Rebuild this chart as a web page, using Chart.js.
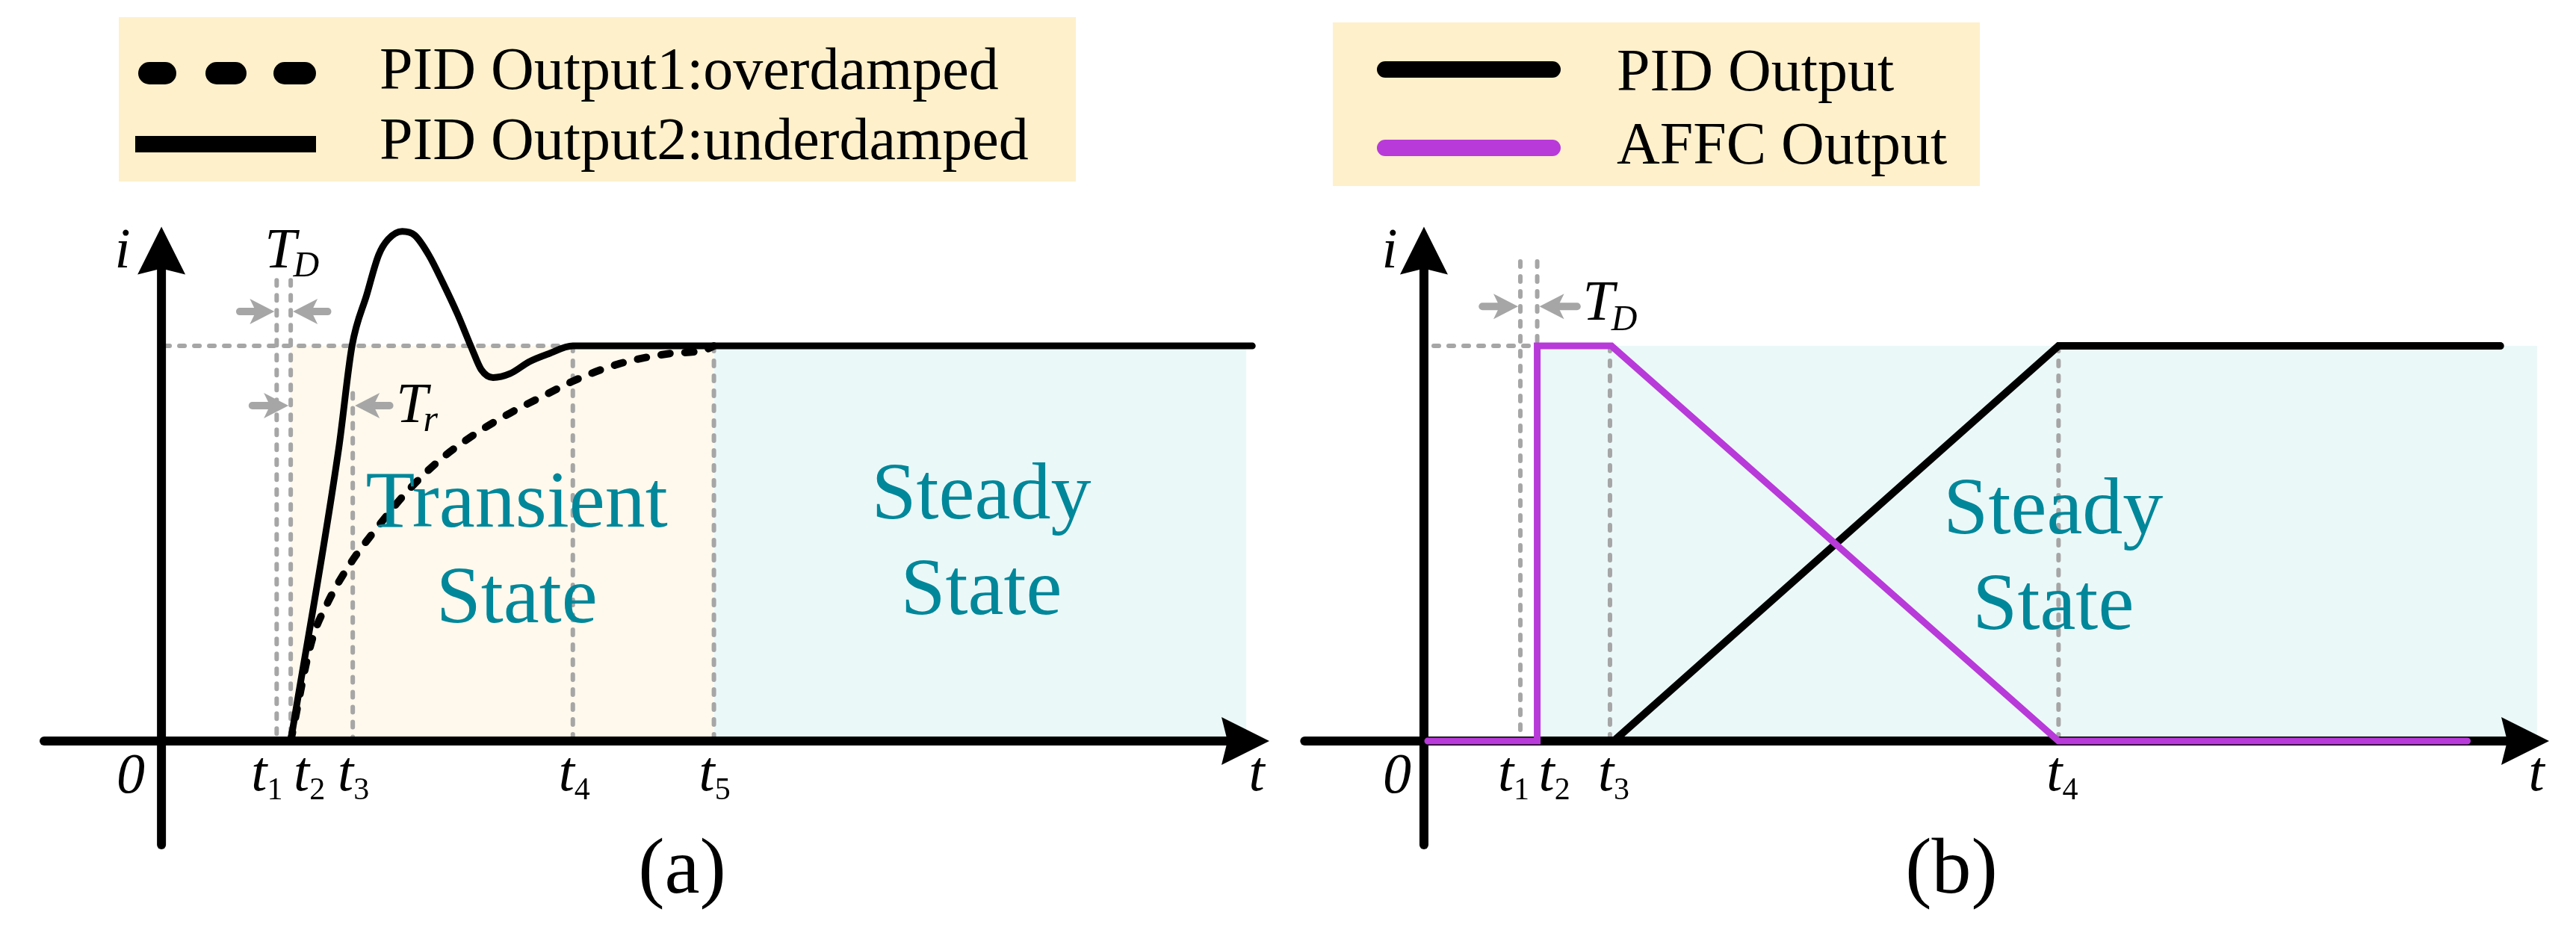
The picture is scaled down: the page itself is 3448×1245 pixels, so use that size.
<!DOCTYPE html>
<html>
<head>
<meta charset="utf-8">
<script src="https://cdn.jsdelivr.net/npm/chart.js@4.4.1/dist/chart.umd.min.js"></script>
<style>
html, body { margin: 0; padding: 0; background: #fff; }
#wrap { display: flex; width: 3448px; height: 1245px; }
canvas { display: block; }
</style>
</head>
<body>
<div id="wrap">
  <canvas id="chartA" width="1724" height="1245"></canvas>
  <canvas id="chartB" width="1724" height="1245"></canvas>
</div>
<script>
const SERIF = '"Liberation Serif", "Times New Roman", serif';
const TEAL = '#00879a';
const PURPLE = '#b83ad9';
const GREY = '#a6a6a6';
const LEGEND_BG = '#fdf0cb';
const TRANSIENT_BG = '#fef9ec';
const STEADY_BG = '#ebf8f8';

// ---- panel (a) ----
const ticksA = [1.56, 1.75, 2.59, 5.57, 7.48];          // t1..t5
const tickNamesA = ['1', '2', '3', '4', '5'];
const guideTopA = [1.166, 1.166, 0.88, 1, 1];
const underdampedT = [1.75, 2.40, 2.58, 2.78, 2.94, 3.07, 3.26, 3.43, 3.62, 3.81, 4.01, 4.21, 4.33, 4.49, 4.72, 4.98, 5.24, 5.57, 14.77];
const underdampedI = [0, 0.74, 1.0, 1.13, 1.23, 1.27, 1.29, 1.28, 1.23, 1.16, 1.08, 0.99, 0.94, 0.92, 0.93, 0.96, 0.98, 1.0, 1.0];
const overdampedT = [1.75, 2.03, 2.25, 2.56, 2.92, 3.32, 3.76, 4.27, 4.72, 5.24, 5.62, 6.20, 6.85, 7.36, 7.48];
const overdampedI = [0, 0.25, 0.35, 0.45, 0.54, 0.63, 0.71, 0.78, 0.83, 0.88, 0.915, 0.955, 0.98, 0.99, 1.0];
const steadyEndA = 14.69;
const legendA = ['PID Output1:overdamped', 'PID Output2:underdamped'];

// ---- panel (b) ----
const ticksB = [1.285, 1.51, 2.48, 8.46];               // t1..t4
const tickNamesB = ['1', '2', '3', '4'];
const guideTopB = [1.214, 1.214, 1, 1];
const pidT = [2.53, 8.46, 14.35];
const pidI = [0, 1, 1];
const affcT = [0.05, 1.51, 1.51, 2.50, 8.46, 13.91];
const affcI = [0, 0, 1, 1, 0, 0];
const steadyEndB = 14.84;
const legendB = ['PID Output', 'AFFC Output'];

const regionA = ['Transient', 'State'];
const regionS = ['Steady', 'State'];

function pts(xs, ys) { return xs.map((x, i) => ({ x: x, y: ys[i] })); }

function bandSet(x1, x2, color) {
  return { data: pts([x1, x2], [1, 1]), borderWidth: 0, borderColor: 'rgba(0,0,0,0)',
    backgroundColor: color, fill: 'origin', order: 30, tension: 0 };
}
function guideSet(x1, y1, x2, y2) {
  return { data: pts([x1, x2], [y1, y2]), borderColor: GREY, borderWidth: 6,
    borderDash: [7, 13], borderCapStyle: 'round', fill: false, order: 20, tension: 0 };
}

function subLabel(ctx, main, sub, x, base, mainFont, subFont, drop, align, kern) {
  kern = kern || 0;
  ctx.font = mainFont; const w1 = ctx.measureText(main).width;
  ctx.font = subFont; const w2 = ctx.measureText(sub).width;
  const left = align === 'center' ? x - (w1 + w2 + kern) / 2 : x;
  ctx.textAlign = 'left';
  ctx.font = mainFont; ctx.fillText(main, left, base);
  ctx.font = subFont; ctx.fillText(sub, left + w1 + kern, base + drop);
}

function greyArrow(ctx, xFrom, xTip, y) {
  const dir = Math.sign(xTip - xFrom), head = 33, half = 17;
  ctx.save();
  ctx.strokeStyle = GREY; ctx.fillStyle = GREY; ctx.lineWidth = 10; ctx.lineCap = 'round';
  ctx.beginPath(); ctx.moveTo(xFrom + dir * 5, y); ctx.lineTo(xTip - dir * head * 0.8, y); ctx.stroke();
  ctx.beginPath(); ctx.moveTo(xTip, y); ctx.lineTo(xTip - dir * head, y - half);
  ctx.lineTo(xTip - dir * head * 0.75, y); ctx.lineTo(xTip - dir * head, y + half); ctx.closePath(); ctx.fill();
  ctx.restore();
}

function drawAxes(c) {
  const ctx = c.ctx, sx = c.scales.x, sy = c.scales.y;
  const x0 = sx.getPixelForValue(0), y0 = sy.getPixelForValue(0);
  const left = c.chartArea.left, right = c.chartArea.right;
  const top = sy.getPixelForValue(1.302), bottom = sy.getPixelForValue(-0.274);
  ctx.save();
  ctx.strokeStyle = '#000'; ctx.fillStyle = '#000'; ctx.lineWidth = 12; ctx.lineCap = 'round';
  ctx.beginPath(); ctx.moveTo(x0, bottom - 6); ctx.lineTo(x0, top + 50); ctx.stroke();
  ctx.beginPath(); ctx.moveTo(left + 6, y0); ctx.lineTo(right - 50, y0); ctx.stroke();
  ctx.beginPath(); ctx.moveTo(x0, top); ctx.lineTo(x0 + 32, top + 64); ctx.lineTo(x0, top + 56);
  ctx.lineTo(x0 - 32, top + 64); ctx.closePath(); ctx.fill();
  ctx.beginPath(); ctx.moveTo(right, y0); ctx.lineTo(right - 64, y0 - 32); ctx.lineTo(right - 56, y0);
  ctx.lineTo(right - 64, y0 + 32); ctx.closePath(); ctx.fill();
  ctx.restore();
}

function drawLegend(ctx, box, sample, texts, textX, bases) {
  ctx.save();
  ctx.fillStyle = LEGEND_BG;
  ctx.fillRect(box[0], box[1], box[2] - box[0], box[3] - box[1]);
  sample();
  ctx.fillStyle = '#000'; ctx.font = '80px ' + SERIF; ctx.textAlign = 'left'; ctx.textBaseline = 'alphabetic';
  texts.forEach((t, i) => ctx.fillText(t, textX, bases[i]));
  ctx.restore();
}

function axisLabels(c, ticks, names, offsets, zeroOff, iOff) {
  const ctx = c.ctx, sx = c.scales.x;
  const x0 = sx.getPixelForValue(0);
  ctx.save();
  ctx.fillStyle = '#000'; ctx.textBaseline = 'alphabetic';
  ctx.textAlign = 'center';
  ctx.font = 'italic 76px ' + SERIF;
  ctx.fillText('i', x0 + iOff, 358);
  ctx.fillText('0', x0 + zeroOff, 1061);
  ctx.fillText('t', c.chartArea.right - 17, 1058);
  ticks.forEach((t, i) => {
    subLabel(ctx, 't', names[i], sx.getPixelForValue(t) + offsets[i], 1058,
      'italic 76px ' + SERIF, '42px ' + SERIF, 12, 'center');
  });
  ctx.restore();
}

function regionText(c, lines, xv, baseVals) {
  const ctx = c.ctx, sx = c.scales.x, sy = c.scales.y;
  ctx.save();
  ctx.fillStyle = TEAL; ctx.font = '108px ' + SERIF; ctx.textAlign = 'center'; ctx.textBaseline = 'alphabetic';
  lines.forEach((l, i) => ctx.fillText(l, sx.getPixelForValue(xv), sy.getPixelForValue(baseVals[i])));
  ctx.restore();
}

function caption(ctx, text, x) {
  ctx.save();
  ctx.fillStyle = '#000'; ctx.font = '106px ' + SERIF; ctx.textAlign = 'center';
  ctx.fillText(text, x, 1195);
  ctx.restore();
}

function makePainter(id, legend, labels) {
  return {
    id: id,
    beforeDatasetsDraw(c) { c.$axes = false; legend(c.ctx); },
    beforeDatasetDraw(c, args) {
      if (c.data.datasets[args.index].curve && !c.$axes) { drawAxes(c); c.$axes = true; }
    },
    afterDatasetsDraw(c) { if (!c.$axes) drawAxes(c); labels(c); }
  };
}

function makeChart(id, datasets, padLeft, padRight, painter) {
  return new Chart(document.getElementById(id), {
    type: 'line',
    data: { datasets: datasets },
    options: {
      responsive: false, animation: false, devicePixelRatio: 1, events: [],
      layout: { padding: { left: padLeft, right: padRight, top: 278, bottom: 94.3 } },
      scales: {
        x: { type: 'linear', min: -1.65, max: 15, display: false },
        y: { type: 'linear', min: -0.3, max: 1.35, display: false }
      },
      plugins: { legend: { display: false }, tooltip: { enabled: false } },
      elements: { point: { radius: 0 } }
    },
    plugins: [painter]
  });
}

// ---------- chart (a) ----------
const dsA = [
  bandSet(ticksA[1], ticksA[4], TRANSIENT_BG),
  bandSet(ticksA[4], steadyEndA, STEADY_BG),
  guideSet(0.04, 1, ticksA[3], 1)
];
ticksA.forEach((t, i) => dsA.push(guideSet(t, guideTopA[i], t, 0)));
dsA.push({ label: legendA[1], data: pts(underdampedT, underdampedI), borderColor: '#000', borderWidth: 9,
  cubicInterpolationMode: 'monotone', borderCapStyle: 'round', fill: false, order: 2, curve: true });
dsA.push({ label: legendA[0], data: pts(overdampedT, overdampedI), borderColor: '#000', borderWidth: 10,
  borderDash: [12, 20], borderCapStyle: 'round', cubicInterpolationMode: 'monotone', fill: false, order: 1, curve: true });

const painterA = makePainter('paintA', ctx => {
  drawLegend(ctx, [159, 23, 1440, 243], () => {
    ctx.strokeStyle = '#000'; ctx.lineCap = 'round'; ctx.lineWidth = 30;
    [[200, 221], [290, 315], [381, 408]].forEach(s => {
      ctx.beginPath(); ctx.moveTo(s[0], 98); ctx.lineTo(s[1], 98); ctx.stroke();
    });
    ctx.lineCap = 'butt'; ctx.lineWidth = 22;
    ctx.beginPath(); ctx.moveTo(181, 193); ctx.lineTo(423, 193); ctx.stroke();
  }, legendA, 508, [119, 213]);
}, c => {
  const ctx = c.ctx, sx = c.scales.x, sy = c.scales.y;
  const px = v => sx.getPixelForValue(v);
  greyArrow(ctx, px(1.01), px(ticksA[0]) - 3, sy.getPixelForValue(1.087));
  greyArrow(ctx, px(2.30), px(ticksA[1]) + 3, sy.getPixelForValue(1.087));
  greyArrow(ctx, px(1.18), px(ticksA[1]) - 3, sy.getPixelForValue(0.849));
  greyArrow(ctx, px(3.14), px(ticksA[2]) + 3, sy.getPixelForValue(0.849));
  ctx.fillStyle = '#000';
  subLabel(ctx, 'T', 'D', px(ticksA[0]) - 16, 358, 'italic 76px ' + SERIF, 'italic 48px ' + SERIF, 12, 'left', -4);
  subLabel(ctx, 'T', 'r', px(ticksA[2]) + 58, 565, 'italic 76px ' + SERIF, 'italic 50px ' + SERIF, 12, 'left', -6);
  axisLabels(c, ticksA, tickNamesA, [-13, 25, 1, 2, 1], -41, -52);
  regionText(c, regionA, 4.81, [0.543, 0.30]);
  regionText(c, regionS, 11.10, [0.563, 0.321]);
  caption(ctx, '(a)', 913);
});
makeChart('chartA', dsA, 53, 25, painterA);

// ---------- chart (b) ----------
const dsB = [
  bandSet(ticksB[1], steadyEndB, STEADY_BG),
  guideSet(0.13, 1, ticksB[1] - 0.03, 1)
];
ticksB.forEach((t, i) => dsB.push(guideSet(t, guideTopB[i], t, 0)));
dsB.push({ label: legendB[0], data: pts(pidT, pidI), borderColor: '#000', borderWidth: 10,
  tension: 0, borderCapStyle: 'round', fill: false, order: 1, curve: true });
dsB.push({ label: legendB[1], data: pts(affcT, affcI), borderColor: PURPLE, borderWidth: 9,
  tension: 0, borderCapStyle: 'round', borderJoinStyle: 'miter', fill: false, order: 0, curve: true });

const painterB = makePainter('paintB', ctx => {
  drawLegend(ctx, [60, 30, 926, 249], () => {
    ctx.lineCap = 'round'; ctx.lineWidth = 22;
    ctx.strokeStyle = '#000';
    ctx.beginPath(); ctx.moveTo(130, 93); ctx.lineTo(354, 93); ctx.stroke();
    ctx.strokeStyle = PURPLE;
    ctx.beginPath(); ctx.moveTo(130, 198); ctx.lineTo(354, 198); ctx.stroke();
  }, legendB, 440, [121, 219]);
}, c => {
  const ctx = c.ctx, sx = c.scales.x, sy = c.scales.y;
  const px = v => sx.getPixelForValue(v);
  greyArrow(ctx, px(0.73), px(ticksB[0]) - 3, sy.getPixelForValue(1.10));
  greyArrow(ctx, px(2.09), px(ticksB[1]) + 3, sy.getPixelForValue(1.10));
  ctx.fillStyle = '#000';
  subLabel(ctx, 'T', 'D', px(ticksB[1]) + 61, 428, 'italic 76px ' + SERIF, 'italic 48px ' + SERIF, 14, 'left', -4);
  axisLabels(c, ticksB, tickNamesB, [-9, 23, 5, 5], -36, -46);
  regionText(c, regionS, 8.39, [0.526, 0.284]);
  caption(ctx, '(b)', 888);
});
makeChart('chartB', dsB, 16.3, 36, painterB);
</script>
</body>
</html>
